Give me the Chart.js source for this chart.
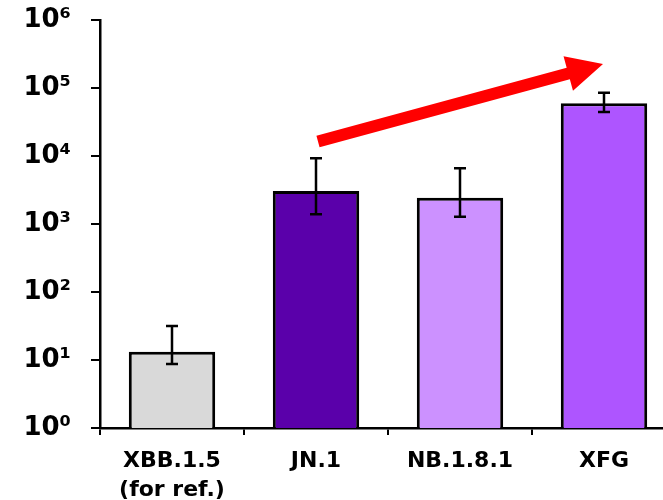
<!DOCTYPE html>
<html>
<head>
<meta charset="utf-8">
<script src="https://cdn.jsdelivr.net/npm/chart.js@4"></script>
<style>
html,body{margin:0;padding:0;overflow:hidden;background:#fff;}
#wrap{width:680px;height:500px;}
</style>
</head>
<body>
<div id="wrap"><canvas id="c" width="680" height="500"></canvas></div>
<script>
const categories = [['XBB.1.5','(for ref.)'], 'JN.1', 'NB.1.8.1', 'XFG'];
const values = [13.2, 3050, 2440, 59600];
const errLow = [8.7, 1390, 1280, 44400];
const errHigh = [31.6, 9250, 6590, 85300];
const barColors = ['#D9D9D9', '#5A00AA', '#CC91FF', '#AE55FF'];
const yTickValues = [1, 10, 100, 1000, 10000, 100000, 1000000];
const yTickLabels = ['10\u2070','10\u00B9','10\u00B2','10\u00B3','10\u2074','10\u2075','10\u2076'];
// arrow anchors: [category index, value]
const arrowFrom = [1, 16300];
const arrowTo = [3, 225000];

const FONT = "'DejaVu Sans', Verdana, sans-serif";

const errorBarPlugin = {
  id: 'errorBars',
  afterDatasetsDraw(chart) {
    const ctx = chart.ctx, x = chart.scales.x, y = chart.scales.y;
    ctx.save();
    ctx.strokeStyle = '#000';
    ctx.lineWidth = 2.5;
    values.forEach((v, i) => {
      const px = x.getPixelForValue(i);
      const yl = y.getPixelForValue(errLow[i]);
      const yh = y.getPixelForValue(errHigh[i]);
      ctx.beginPath();
      ctx.moveTo(px, yl); ctx.lineTo(px, yh);
      ctx.moveTo(px - 6, yl); ctx.lineTo(px + 6, yl);
      ctx.moveTo(px - 6, yh); ctx.lineTo(px + 6, yh);
      ctx.stroke();
    });
    ctx.restore();
  }
};

const arrowPlugin = {
  id: 'arrow',
  afterDraw(chart) {
    const ctx = chart.ctx, x = chart.scales.x, y = chart.scales.y;
    const x0 = x.getPixelForValue(arrowFrom[0]) + 2, y0 = y.getPixelForValue(arrowFrom[1]);
    const x1 = x.getPixelForValue(arrowTo[0]) - 1, y1 = y.getPixelForValue(arrowTo[1]);
    const ang = Math.atan2(y1 - y0, x1 - x0);
    const len = Math.hypot(x1 - x0, y1 - y0);
    const headLen = 36, headW = 36, shaftW = 12;
    ctx.save();
    ctx.translate(x0, y0);
    ctx.rotate(ang);
    ctx.fillStyle = '#FF0000';
    ctx.beginPath();
    ctx.moveTo(0, -shaftW / 2);
    ctx.lineTo(len - headLen, -shaftW / 2);
    ctx.lineTo(len - headLen, -headW / 2);
    ctx.lineTo(len, 0);
    ctx.lineTo(len - headLen, headW / 2);
    ctx.lineTo(len - headLen, shaftW / 2);
    ctx.lineTo(0, shaftW / 2);
    ctx.closePath();
    ctx.fill();
    ctx.restore();
  }
};

new Chart(document.getElementById('c'), {
  type: 'bar',
  data: {
    labels: categories,
    datasets: [{
      data: values,
      backgroundColor: barColors,
      borderColor: '#000',
      borderWidth: 3,
      borderSkipped: 'start',
      barPercentage: 0.6,
      categoryPercentage: 1.0
    }]
  },
  options: {
    responsive: false,
    animation: false,
    layout: { padding: { top: 20, right: 4, left: 0, bottom: 0 } },
    plugins: { legend: { display: false }, tooltip: { enabled: false } },
    scales: {
      x: {
        type: 'category',
        offset: true,
        grid: { offset: true, drawOnChartArea: false, drawTicks: true, tickLength: 7, color: '#000', lineWidth: 2 },
        border: { color: '#000', width: 2.5 },
        ticks: { color: '#000', font: { family: FONT, weight: 'bold', size: 22, lineHeight: 1.32 }, padding: 12, maxRotation: 0, autoSkip: false },
        afterFit(s) { s.height = 72; s.paddingLeft = 0; s.paddingRight = 0; }
      },
      y: {
        type: 'logarithmic',
        min: 1,
        max: 1000000,
        grid: { drawOnChartArea: false, drawTicks: true, tickLength: 9, color: '#000', lineWidth: 2 },
        border: { color: '#000', width: 2.5 },
        afterBuildTicks(s) { s.ticks = yTickValues.map(v => ({ value: v })); },
        ticks: {
          color: '#000',
          font: { family: FONT, weight: 'bold', size: 26 },
          padding: 20,
          callback(v) { const i = yTickValues.indexOf(v); return i >= 0 ? yTickLabels[i] : ''; }
        },
        afterFit(s) { s.width = 100; s.paddingTop = 0; s.paddingBottom = 0; }
      }
    }
  },
  plugins: [errorBarPlugin, arrowPlugin]
});
</script>
</body>
</html>
